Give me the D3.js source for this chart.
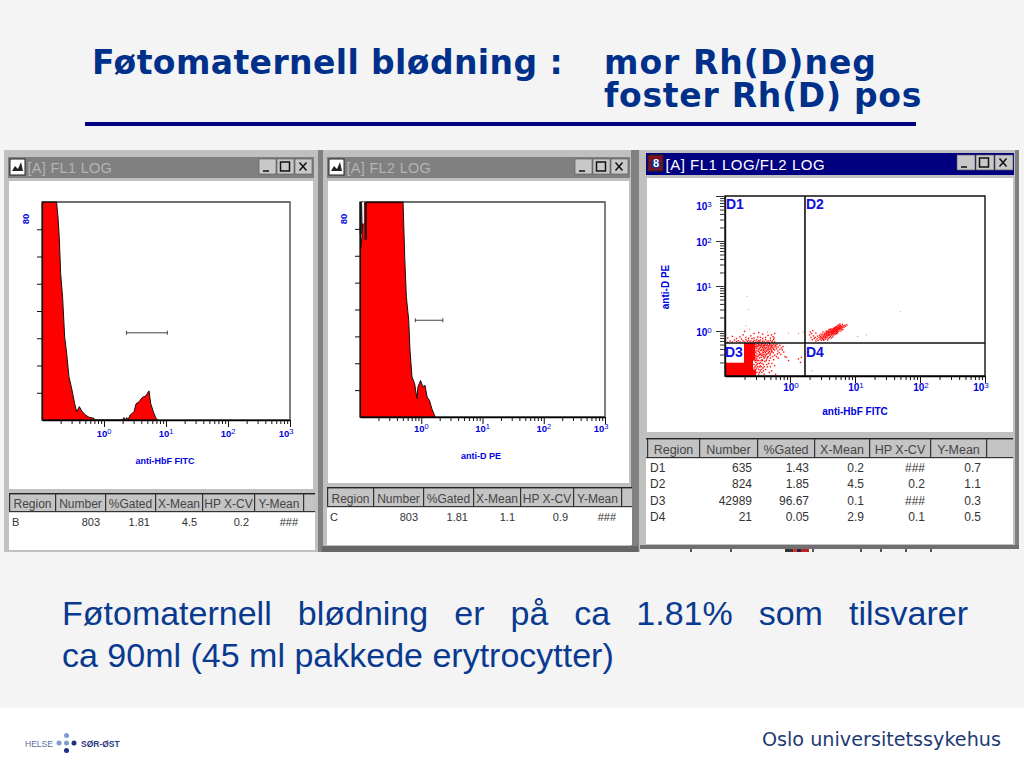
<!DOCTYPE html>
<html><head><meta charset="utf-8">
<script src="https://cdnjs.cloudflare.com/ajax/libs/d3/7.8.5/d3.min.js"></script>
<style>html,body{margin:0;padding:0;background:#f4f4f5;overflow:hidden}svg{display:block}</style>
</head><body><svg id="c" width="1024" height="768"></svg>
<script>
// ---- text
const titleLeft = "Føtomaternell blødning :";
const titleRight = ["mor Rh(D)neg", "foster Rh(D) pos"];
const bodyLine1 = "Føtomaternell blødning er på ca 1.81% som tilsvarer";
const bodyLine2 = "ca 90ml (45 ml pakkede erytrocytter)";
const tableColumns = ["Region", "Number", "%Gated", "X-Mean", "HP X-CV", "Y-Mean"];
// ---- statistic tables
const rowsFL1 = [["B", "803", "1.81", "4.5", "0.2", "###"]];
const rowsFL2 = [["C", "803", "1.81", "1.1", "0.9", "###"]];
const rowsDot = [["D1", "635", "1.43", "0.2", "###", "0.7"], ["D2", "824", "1.85", "4.5", "0.2", "1.1"],
                 ["D3", "42989", "96.67", "0.1", "###", "0.3"], ["D4", "21", "0.05", "2.9", "0.1", "0.5"]];
// ---- histogram FL1
const fl1X = [0.1,0.172,0.181,0.19,0.2,0.215,0.232,0.25,0.272,0.297,0.336,0.362,0.4,0.447,0.506,0.573,0.69,0.707,1.98,2.1,2.23,2.32,2.44,2.63,3.05,3.28,3.67,4.15,4.7,5.32,5.66,6.25,6.81,7.24];
const fl1Y = [80,80,74.5,67,53.7,45,30.5,24.4,15.9,12.2,6.1,3,4.9,3,1.8,1,0.6,0,0,0.9,0,0.9,0,1.8,3,5.9,6.7,8.3,8.8,10.7,6.1,3,0.9,0];
const fl1Marker = [2.3, 10.5, 32];
// ---- histogram FL2
const fl2X = [0.1,0.104,0.109,0.113,0.128,0.505,0.537,0.571,0.624,0.655,0.706,0.78,0.851,0.883,0.975,1.06,1.15,1.25,1.36,1.49,1.69];
const fl2Y = [63,63,69,79,80,80,59.5,44.7,36,24.8,14.9,12.4,6.8,11.2,13.6,11.2,11.8,7.4,6.2,3.1,0];
const fl2Marker = [0.8, 2.25, 36];
// ---- log axes
const decades = [0.1, 1, 10, 100, 1000];
const minorSteps = [2, 3, 4, 5, 6, 7, 8, 9];
const countTicks = [10, 20, 30, 40, 50, 60, 70];
// ---- quadrant gates
const gateX = 1.7, gateY = 0.54;
// ---- dot plot: solid event blocks [x0,x1,y0,y1]
const denseBlocks = [[0.1,0.205,0.1,0.2],[0.195,0.27,0.1,0.54],[0.27,0.29,0.22,0.54],[0.27,0.3,0.1,0.14]];
// ---- dot plot: events, [FL1, FL2]
const lowCloud = [[.28,.11],[.29,.13],[.3,.12],[.31,.15],[.33,.11],[.35,.13],[.28,.18],[.3,.17],[.32,.19],[.34,.16],[.37,.12],[.4,.11],[.42,.14],[.29,.22],[.31,.24],[.33,.22],[.35,.2],[.37,.23],[.39,.18],[.41,.21],[.45,.16],[.48,.12],[.52,.13],[.6,.11],[.3,.28],[.32,.27],[.34,.3],[.36,.26],[.38,.29],[.4,.25],[.42,.28],[.44,.24],[.46,.27],[.48,.22],[.5,.25],[.53,.19],[.56,.23],[.3,.34],[.32,.36],[.34,.33],[.36,.37],[.38,.34],[.4,.38],[.42,.33],[.44,.36],[.46,.32],[.48,.35],[.5,.31],[.52,.37],[.55,.33],[.58,.29],[.62,.27],[.3,.42],[.32,.45],[.34,.41],[.36,.47],[.38,.43],[.4,.46],[.42,.4],[.44,.44],[.46,.41],[.48,.47],[.5,.42],[.52,.45],[.55,.41],[.58,.38],[.61,.44],[.65,.36],[.3,.5],[.32,.52],[.34,.49],[.36,.51],[.38,.53],[.4,.5],[.42,.52],[.45,.5],[.48,.53],[.52,.49],[.56,.51],[.6,.47],[.68,.33],[.72,.3],[.76,.38],[.8,.34],[.84,.27],[.74,.42],[.7,.48],[.66,.25],[.64,.31],[.88,.26],[.95,.22],[.5,.16],[.44,.18],[.58,.17],[.36,.16],[.3,.2],[.27,.31],[.28,.39],[.29,.46],[.31,.31],[.33,.39],[.35,.43],[.37,.31],[.39,.41],[.41,.35],[.43,.3],[.45,.38],[.47,.44],[.49,.29],[.51,.34],[.54,.27],[1.35,.24],[1.5,.26],[1.45,.2],[.62,.4],[.7,.39],[.78,.45],[.54,.47],
[.29,.33],[.3,.37],[.31,.41],[.31,.47],[.3,.45],[.33,.47],[.33,.51],[.35,.47],[.35,.37],[.35,.31],[.33,.35],[.33,.29],[.31,.27],[.29,.26],[.29,.29],[.3,.24],[.32,.22],[.34,.25],[.36,.22],[.36,.29],[.37,.39],[.37,.45],[.37,.49],[.39,.47],[.39,.37],[.39,.33],[.39,.27],[.38,.22],[.4,.3],[.41,.43],[.41,.48],[.43,.48],[.43,.42],[.43,.36],[.44,.31],[.45,.26],[.46,.47],[.47,.38],[.47,.33],[.49,.4],[.49,.5],[.51,.47],[.51,.39],[.53,.43],[.53,.35],[.56,.39],[.57,.44],[.59,.49],[.63,.5],[.66,.44],[.29,.16],[.31,.18],[.31,.12],[.33,.14],[.34,.12],[.35,.17],[.36,.14],[.38,.15],[.39,.13],[.32,.16],[.28,.15],[.3,.14],[.3,.22],[.28,.24],[.34,.19],[.37,.19],[.4,.16],[.41,.26],[.43,.22],[.47,.19]];
const aboveCloud = [[.11,.56],[.12,.6],[.13,.57],[.14,.63],[.15,.58],[.16,.61],[.17,.57],[.18,.66],[.19,.6],[.2,.57],[.21,.64],[.22,.59],[.23,.62],[.24,.57],[.25,.6],[.26,.68],[.27,.58],[.28,.62],[.29,.56],[.3,.6],[.31,.65],[.32,.57],[.33,.61],[.34,.58],[.35,.63],[.36,.56],[.38,.6],[.4,.58],[.42,.64],[.44,.57],[.46,.6],[.48,.56],[.5,.62],[.52,.57],[.54,.6],[.56,.65],[.58,.57],[.11,.7],[.13,.76],[.15,.68],[.17,.74],[.19,.82],[.21,.72],[.23,.69],[.25,.78],[.28,.7],[.32,.74],[.35,.72],[.38,.68],[.42,.72],[.46,.8],[.5,.7],[.55,.75],[.58,.88],[.2,.98],[.28,.88],[.33,.92],[.38,.85],[.52,.82],[.57,.7]];
const positiveCloud = [[2.0,.82],[2.05,.95],[2.1,.72],[2.15,.88],[2.2,.64],[2.3,.78],[2.35,.68],[2.45,.72],[2.5,.6],[2.6,.67],[2.65,.77],[2.7,.62],[2.8,.72],[2.85,.8],[2.9,.66],[2.95,.75],[3,.7],[3,.86],[3.05,.62],[3.1,.78],[3.15,.68],[3.2,.84],[3.2,.95],[3.25,.74],[3.3,.65],[3.35,.8],[3.4,.9],[3.45,.7],[3.5,.85],[3.5,.76],[3.55,.66],[3.6,.93],[3.65,.8],[3.7,.72],[3.7,.88],[3.75,.98],[3.8,.77],[3.85,.84],[3.9,.68],[3.9,.92],[3.95,1.02],[4,.8],[4,.88],[4.05,.72],[4.1,.96],[4.15,1.06],[4.2,.84],[4.2,.76],[4.25,.92],[4.3,1.0],[4.35,.86],[4.4,1.1],[4.4,.8],[4.45,.95],[4.5,1.04],[4.5,.88],[4.55,.74],[4.6,1.0],[4.65,1.14],[4.7,.9],[4.7,1.08],[4.75,.82],[4.8,.98],[4.85,1.18],[4.9,1.05],[4.95,.92],[5,1.12],[5,1.0],[5.05,.85],[5.1,1.24],[5.15,1.08],[5.2,.96],[5.25,1.16],[5.3,1.02],[5.35,1.3],[5.4,.9],[5.45,1.2],[5.5,1.08],[5.55,1.36],[5.6,.98],[5.65,1.15],[5.7,1.26],[5.8,1.06],[5.85,1.42],[5.9,1.2],[6,1.12],[6,1.32],[6.1,1.0],[6.2,1.26],[6.3,1.18],[6.4,1.4],[6.5,1.08],[6.6,1.3],[6.8,1.22],[7,1.34],[7.2,1.28],[7.5,1.38],[3.3,.62],[2.5,.9],[2.25,1.02],[4.6,.84],[4.3,.7],[3.8,.63],[5.2,.88],
[3.4,.82],[3.6,.86],[3.8,.9],[4,.95],[4.2,.98],[4.4,.9],[4.6,.94],[4.8,1.05],[5,1.06],[5.2,1.1],[5.4,1.14],[5.6,1.2],[5.8,1.14],[6,1.22],[3.9,.8],[4.1,.84],[4.3,.94],[4.5,.98],[4.7,1.0],[4.9,.98],[5.1,1.0],[5.3,1.08],[5.5,1.16],[5.7,1.1],[3.7,.78],[3.5,.72],[3.3,.74],[3.1,.7],[4.2,1.1],[4.4,1.02],[4.6,1.08],[4.8,1.12],[5,1.2],[5.2,1.22],[5.4,1.06],[3.2,.66],[4,1.08],[3.6,1.0],[6.2,1.1],[6.5,1.22],[4.8,.88],[5.4,.98],[5.8,1.3],[5.3,.94],[3.85,.95]];
const sparseEvents = [[.22,5.8],[.23,3],[.21,1.3],[.95,.9],[1.35,.88],[1.6,.95],[11,.75],[15,.82],[50,2.7],[2.2,.13],[.24,1.1],[.45,.95]];

// ---- drawing
const svg = d3.select("#c");
const sans = "'Liberation Sans', Arial, sans-serif";
const blue = "#0000e0";
const pageBg = "#f4f4f5";
svg.append("rect").attr("width",1024).attr("height",768).attr("fill",pageBg);
svg.append("rect").attr("y",708).attr("width",1024).attr("height",60).attr("fill","#fff");

const tit = svg.append("g").attr("font-family","'DejaVu Sans',sans-serif").attr("font-weight","700").attr("fill","#00308a");
function fitted(sel,x,y,w,fs){
  const t = sel.append("text").attr("x",x).attr("y",y).attr("font-size",fs);
  return t;
}
const tA = fitted(tit,92,74,471,33).text(titleLeft);
const tB = fitted(tit,604,74,273,33).text(titleRight[0]);
const tC = fitted(tit,604,107,318,33).text(titleRight[1]);
[[tA,471],[tB,273],[tC,318]].forEach(([t,w])=>{
  const n = t.text().length;
  t.attr("letter-spacing",(w-t.node().getComputedTextLength())/n);
});
svg.append("rect").attr("x",85).attr("y",122).attr("width",831).attr("height",4).attr("fill","#000080");

const bodyG = svg.append("g").attr("font-family",sans).attr("font-size",34).attr("fill","#0a3a8f");
const b1 = bodyG.append("text").attr("x",62).attr("y",625).text(bodyLine1);
const gaps = bodyLine1.split(" ").length - 1;
b1.style("word-spacing", ((906 - b1.node().getComputedTextLength()) / gaps) + "px");
bodyG.append("text").attr("x",62).attr("y",667).text(bodyLine2);

svg.append("text").attr("x",1001).attr("y",746).attr("text-anchor","end").attr("font-family","'DejaVu Sans',sans-serif").attr("font-size",19.2).attr("fill","#1f3a73").text("Oslo universitetssykehus");
svg.append("text").attr("x",25).attr("y",746.5).attr("font-family",sans).attr("font-size",8.5).attr("fill","#5a6f9c").text("HELSE");
svg.append("text").attr("x",81).attr("y",746.5).attr("font-family",sans).attr("font-weight","700").attr("font-size",8.5).attr("fill","#2a3a80").text("SØR-ØST");
[[59,743,"#7f9ccf"],[66.5,743,"#7f9ccf"],[74,743,"#20307f"],[66.5,735.5,"#7f9ccf"],[66.5,750.5,"#20307f"]].forEach(d=>
  svg.append("circle").attr("cx",d[0]).attr("cy",d[1]).attr("r",2.5).attr("fill",d[2]));

// block backdrop
svg.append("rect").attr("x",4).attr("y",150).attr("width",1020).attr("height",402).attr("fill","#c0c0c0");
svg.append("rect").attr("x",318).attr("y",150).attr("width",5).attr("height",402).attr("fill","#808080");
svg.append("rect").attr("x",631).attr("y",150).attr("width",8).attr("height",402).attr("fill","#808080");
svg.append("rect").attr("x",1015).attr("y",150).attr("width",4).attr("height",398).attr("fill","#808080");
svg.append("rect").attr("x",322).attr("y",546).attr("width",316).attr("height",6).attr("fill","#666");
svg.append("rect").attr("x",640).attr("y",545).attr("width",379).attr("height",4).attr("fill","#707070");
svg.append("rect").attr("x",1019).attr("y",150).attr("width",5).attr("height",402).attr("fill",pageBg);
svg.append("rect").attr("x",640).attr("y",549).attr("width",384).attr("height",4).attr("fill",pageBg);
[[785,8,"#333"],[793,4,"#d33"],[797,4,"#224"],[801,8,"#b22"],[812,2,"#555"],[690,2,"#555"],[730,2,"#555"],[860,2,"#555"],[880,2,"#555"],[905,2,"#555"],[930,2,"#555"]].forEach(d=>
  svg.append("rect").attr("x",d[0]).attr("y",549).attr("width",d[1]).attr("height",3).attr("fill",d[2]));

function windowChrome(w){
  const g = svg.append("g").attr("font-family",sans);
  g.append("rect").attr("x",w.x0).attr("y",w.titleY).attr("width",w.x1-w.x0).attr("height",w.titleH).attr("fill",w.titleFill);
  g.append("rect").attr("x",w.x0+1).attr("y",w.titleY+w.titleH+3).attr("width",w.x1-w.x0-2).attr("height",w.clientBottom-w.titleY-w.titleH-3).attr("fill","#fff");
  g.append("rect").attr("x",w.x0+2).attr("y",w.titleY+2).attr("width",15).attr("height",16).attr("fill",w.active?"#801020":"#fff").attr("stroke","#222");
  if(w.active){
    g.append("circle").attr("cx",w.x0+10).attr("cy",w.titleY+11).attr("r",5).attr("fill","#103080");
    g.append("text").attr("x",w.x0+7).attr("y",w.titleY+14).attr("font-size",11).attr("font-weight","700").attr("fill","#fff").text("8");
  } else {
    g.append("path").attr("d",`M${w.x0+4} ${w.titleY+14}l3 -5l3 3l3 -7l2 9z`).attr("fill","#222");
  }
  g.append("text").attr("x",w.x0+19.5).attr("y",w.titleY+w.titleH-5).attr("font-size",w.active?15:14.5).attr("letter-spacing",w.active?.5:.3).attr("fill",w.active?"#fff":"#b4b4b4").text(w.title);
  [2,1,0].forEach((k,i)=>{
    const bx = w.x1-18-k*(w.btn)-1, by = w.titleY+2;
    g.append("rect").attr("x",bx).attr("y",by).attr("width",w.btn-1).attr("height",15).attr("fill","#c8c8c8").attr("stroke","#555").attr("stroke-width",.6);
    const m = g.append("g").attr("fill","none").attr("stroke","#111").attr("stroke-width",1.5);
    if(i==0) m.append("path").attr("d",`M${bx+4} ${by+12}h6`);
    if(i==1) m.append("rect").attr("x",bx+3.5).attr("y",by+3).attr("width",9).attr("height",9);
    if(i==2) m.append("path").attr("d",`M${bx+4.5} ${by+3.5}l7 8M${bx+11.5} ${by+3.5}l-7 8`);
  });
}

function statTable(t, rows){
  const g = svg.append("g").attr("font-family",sans);
  g.append("rect").attr("x",t.x).attr("y",t.headTop).attr("width",t.right-t.x).attr("height",t.bodyBottom-t.headTop).attr("fill","#fff");
  g.append("rect").attr("x",t.x).attr("y",t.headTop).attr("width",t.right-t.x).attr("height",t.headH).attr("fill","#c4c4c4");
  g.append("rect").attr("x",t.x).attr("y",t.headTop-1).attr("width",t.right-t.x).attr("height",1.4).attr("fill","#222");
  g.append("rect").attr("x",t.x).attr("y",t.headTop+t.headH-1).attr("width",t.right-t.x).attr("height",1.2).attr("fill","#333");
  const edges = t.edges;
  edges.forEach(e=>g.append("rect").attr("x",e).attr("y",t.headTop).attr("width",1.2).attr("height",t.headH).attr("fill","#333"));
  tableColumns.forEach((c,i)=>{
    g.append("text").attr("x",(edges[i]+edges[i+1])/2+.5).attr("y",t.headTop+t.headH-4.5).attr("text-anchor","middle")
     .attr("font-size",t.fs).attr("fill","#444").text(c);
  });
  rows.forEach((r,j)=>r.forEach((v,i)=>{
    const yy = t.rowY + j*t.rowH;
    g.append("text").attr("x",i==0?edges[0]+3:edges[i+1]-5).attr("y",yy).attr("text-anchor",i==0?"start":"end")
     .attr("font-size",t.bfs).attr("fill","#333").text(v);
  }));
}

function decadeLabel(g,x,y,exp,fs){
  const t = g.append("text").attr("x",x).attr("y",y).attr("text-anchor","middle").attr("font-family",sans)
    .attr("font-weight","700").attr("font-size",fs).attr("fill",blue);
  t.append("tspan").text("10");
  t.append("tspan").attr("dy",-3).attr("font-size",fs-2).attr("font-weight","400").text(exp);
}

function logX(g,x,bottom,labelY,fs,labelShift){
  const all = [];
  decades.slice(0,-1).forEach(d=>minorSteps.forEach(s=>all.push(d*s)));
  const majors = decades.slice(1);
  const ax = g.append("g").attr("transform",`translate(0,${bottom})`).attr("font-family",sans);
  ax.call(d3.axisBottom(x).tickValues(all.concat(majors)).tickSize(4).tickFormat("").tickSizeOuter(0));
  ax.select(".domain").attr("stroke","#000").attr("stroke-width",1.4);
  ax.selectAll(".tick line").attr("stroke","#111").attr("y2",d=>majors.includes(d)?7:4);
  majors.forEach((d,i)=>decadeLabel(g,Math.min(x(d)+labelShift, x(1000)-4),labelY,String(i),fs));
}

function histogram(cfg){
  const x = d3.scaleLog().domain([decades[0],1000]).range([cfg.left,cfg.right]);
  const y = d3.scaleLinear().domain([0,80]).range([cfg.bottom,cfg.top]);
  const g = svg.append("g");
  const pts = cfg.xs.map((v,i)=>[v,cfg.ys[i]]);
  g.append("path").datum(pts)
    .attr("d",d3.area().x(d=>x(d[0])).y0(y(0)).y1(d=>y(d[1])))
    .attr("fill","#ff0000");
  g.append("path").datum(pts)
    .attr("d",d3.line().x(d=>x(d[0])).y(d=>y(d[1])))
    .attr("fill","none").attr("stroke","#111").attr("stroke-width",1);
  g.append("rect").attr("x",cfg.left).attr("y",cfg.top).attr("width",cfg.right-cfg.left).attr("height",cfg.bottom-cfg.top)
    .attr("fill","none").attr("stroke","#111").attr("stroke-width",1.2);
  g.append("line").attr("x1",cfg.right).attr("x2",cfg.right).attr("y1",cfg.top).attr("y2",cfg.bottom).attr("stroke","#888").attr("stroke-width",1.2);
  logX(g,x,cfg.bottom,cfg.labelY,9.5,0);
  const ay = g.append("g").attr("transform",`translate(${cfg.left},0)`);
  ay.call(d3.axisLeft(y).tickValues(countTicks).tickSize(5).tickFormat("").tickSizeOuter(0));
  ay.select(".domain").attr("stroke","#111").attr("stroke-width",1.2);
  ay.selectAll(".tick line").attr("stroke","#111");
  g.append("text").attr("transform",`translate(${cfg.left-13},${y(80)+17}) rotate(-90)`).attr("text-anchor","middle")
    .attr("font-family",sans).attr("font-weight","700").attr("font-size",9.5).attr("fill",blue).text("80");
  const m = cfg.marker;
  const my = y(m[2]);
  g.append("path").attr("d",`M${x(m[0])} ${my-2}v4M${x(m[0])} ${my}H${x(m[1])}M${x(m[1])} ${my-2}v4`)
    .attr("stroke","#444").attr("stroke-width",1).attr("fill","none");
  g.append("text").attr("x",cfg.titleX).attr("y",cfg.xTitleY).attr("text-anchor","middle").attr("font-family",sans)
    .attr("font-weight","700").attr("font-size",9).attr("fill",blue).text(cfg.xTitle);
  if(cfg.streak){
    g.append("path").attr("d",`M${x(0.113)} ${cfg.top}V${y(72)}`).attr("stroke","#eee").attr("stroke-width",1.6);
    g.append("path").attr("d",`M${x(0.103)} ${cfg.top}V${y(68)}M${x(0.124)} ${cfg.top}V${y(66)}`).attr("stroke","#111").attr("stroke-width",2.2);
    g.append("path").attr("d",`M${x(0.128)} ${cfg.top+.6}H${x(0.505)}`).attr("stroke","#400").attr("stroke-width",1.4);
  }
}

function dotPlot(){
  const x = d3.scaleLog().domain([decades[0],1000]).range([725,985]);
  const y = d3.scaleLog().domain([decades[0],1000]).range([376,196]);
  const g = svg.append("g");
  g.selectAll(".blk").data(denseBlocks).join("rect").attr("x",d=>x(d[0])).attr("width",d=>x(d[1])-x(d[0]))
    .attr("y",d=>y(d[3])).attr("height",d=>y(d[2])-y(d[3])).attr("fill","#f00");
  g.selectAll(".pt").data(lowCloud.concat(aboveCloud,positiveCloud)).join("rect")
    .attr("x",d=>x(d[0])-.7).attr("y",d=>y(d[1])-.7).attr("width",1.4).attr("height",1.4).attr("fill","#f11");
  g.selectAll(".sp").data(sparseEvents).join("rect")
    .attr("x",d=>x(d[0])-.5).attr("y",d=>y(d[1])-.5).attr("width",1).attr("height",1).attr("fill",d=>d[1]>1.2?"#aaa":"#e66");
  g.append("rect").attr("x",x(.1)).attr("y",y(.53)).attr("width",x(.196)-x(.1)).attr("height",y(.2)-y(.53)).attr("fill","#fff");
  g.append("path").attr("d",`M725 196H985V376H725Z`).attr("fill","none").attr("stroke","#111").attr("stroke-width",1.4);
  g.append("line").attr("x1",x(gateX)).attr("x2",x(gateX)).attr("y1",196).attr("y2",376).attr("stroke","#111").attr("stroke-width",1.6);
  g.append("line").attr("x1",725).attr("x2",985).attr("y1",y(gateY)).attr("y2",y(gateY)).attr("stroke","#111").attr("stroke-width",1.6);
  logX(g,x,376,391,10,1);
  const all = [];
  decades.slice(0,-1).forEach(d=>minorSteps.forEach(s=>all.push(d*s)));
  const majors = decades.slice(1);
  const ay = g.append("g").attr("transform","translate(725,0)");
  ay.call(d3.axisLeft(y).tickValues(all.concat(majors)).tickSize(4).tickFormat("").tickSizeOuter(0));
  ay.select(".domain").attr("stroke","#111").attr("stroke-width",1.4);
  ay.selectAll(".tick line").attr("stroke","#333").attr("x2",d=>majors.includes(d)?-9:-5);
  majors.forEach((d,i)=>decadeLabel(g,704,(i==3?210:y(d)+5),String(i),10));
  [["D1",726,209],["D2",806,209],["D3",725,357],["D4",806,357]].forEach(d=>
    g.append("text").attr("x",d[1]).attr("y",d[2]).attr("font-family",sans).attr("font-weight","700").attr("font-size",14).attr("fill","#1010e0").text(d[0]));
  g.append("text").attr("x",855).attr("y",415).attr("text-anchor","middle").attr("font-family",sans).attr("font-weight","700").attr("font-size",10).attr("fill",blue).text("anti-HbF FITC");
  g.append("text").attr("transform","translate(669,287) rotate(-90)").attr("text-anchor","middle").attr("font-family",sans).attr("font-weight","700").attr("font-size",10).attr("fill",blue).text("anti-D PE");
}

windowChrome({x0:8,x1:314,titleY:157,titleH:21,titleFill:"#808080",clientBottom:489,title:"[A] FL1 LOG",btn:18,active:false});
windowChrome({x0:327,x1:630,titleY:157,titleH:21,titleFill:"#808080",clientBottom:483,title:"[A] FL2 LOG",btn:18,active:false});
windowChrome({x0:646,x1:1014,titleY:153,titleH:22,titleFill:"#000080",clientBottom:432,title:"[A] FL1 LOG/FL2 LOG",btn:19,active:true});

histogram({left:42,right:290,top:202,bottom:420,xs:fl1X,ys:fl1Y,marker:fl1Marker,labelY:437,xTitle:"anti-HbF FITC",titleX:165,xTitleY:464});
histogram({left:360,right:605,top:202,bottom:417,xs:fl2X,ys:fl2Y,marker:fl2Marker,labelY:432,xTitle:"anti-D PE",titleX:481,xTitleY:459,streak:true});
dotPlot();

statTable({x:9,right:315,headTop:494,headH:18,bodyBottom:550,edges:[9,55,105,155,202,254,303],rowY:526,rowH:16,fs:12,bfs:11},rowsFL1);
statTable({x:327,right:632,headTop:488,headH:19,bodyBottom:545,edges:[327,373,423,473,520,573,621],rowY:521,rowH:16,fs:12,bfs:11},rowsFL2);
statTable({x:646,right:1013,headTop:439,headH:19,bodyBottom:544,edges:[647,699,757,814,869,930,986],rowY:472,rowH:16.3,fs:12.5,bfs:12},rowsDot);
</script></body></html>
